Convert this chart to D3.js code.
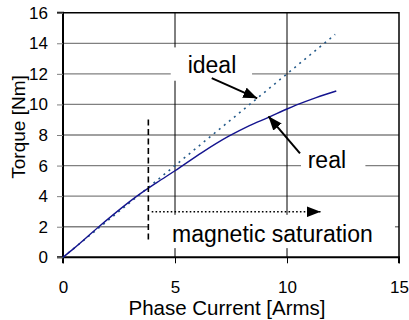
<!DOCTYPE html>
<html>
<head>
<meta charset="utf-8">
<script src="https://cdn.jsdelivr.net/npm/d3@7/dist/d3.min.js"></script>
<style>
  html, body { margin: 0; padding: 0; background: #fff; }
  svg { display: block; }
  text { font-family: "Liberation Sans", Arial, sans-serif; fill: #000; }
</style>
</head>
<body>
<svg id="chart" width="409" height="320"></svg>
<script>
// Measured torque vs. phase current
const realCurrent = [0, 0.5, 1.6, 3.3, 4.2, 5.0, 6.2, 7.4, 8.3, 9.2, 10.0, 10.4, 11.3, 12.2];
const realTorque  = [0, 0.6, 2.0, 4.0, 4.9, 5.66, 6.85, 7.92, 8.6, 9.17, 9.7, 9.95, 10.45, 10.88];

// Ideal (linear, unsaturated) torque
const idealCurrent = [0, 12.15];
const idealTorque  = [0, 14.58];

// Axis ticks
const xTicks = [0, 5, 10, 15];
const yTicks = [0, 2, 4, 6, 8, 10, 12, 14, 16];

const svg = d3.select("#chart");
const margin = { left: 63, right: 10, top: 12.7, bottom: 62.7 };
const W = 409, H = 320;

const x = d3.scaleLinear().domain([0, 15]).range([margin.left, W - margin.right]);
const y = d3.scaleLinear().domain([0, 16]).range([H - margin.bottom, margin.top]);

// Horizontal gridlines (grey)
svg.append("g")
  .selectAll("line")
  .data(yTicks.filter(d => d > 0 && d < 16))
  .join("line")
  .attr("x1", x(0)).attr("x2", x(15))
  .attr("y1", d => y(d)).attr("y2", d => y(d))
  .attr("stroke", "#808080").attr("stroke-width", 1.3);

// Vertical gridlines (black)
svg.append("g")
  .selectAll("line")
  .data(xTicks.filter(d => d > 0 && d < 15))
  .join("line")
  .attr("x1", d => x(d)).attr("x2", d => x(d))
  .attr("y1", y(0)).attr("y2", y(16))
  .attr("stroke", "#000").attr("stroke-width", 1);

// Annotation labels with white backgrounds
const labels = [
  { text: "ideal", cx: 6.65, by: 12.03, box: [4.81, 8.44, 11.55, 13.73] },
  { text: "real", cx: 11.78, by: 5.82, box: [10.625, 13.5, 5.18, 7.0] },
  { text: "magnetic saturation", cx: 9.35, by: 1.03, box: [3.84, 14.82, 0.6, 2.78] }
];

svg.append("g")
  .selectAll("rect")
  .data(labels)
  .join("rect")
  .attr("x", d => x(d.box[0]))
  .attr("y", d => y(d.box[3]))
  .attr("width", d => x(d.box[1]) - x(d.box[0]))
  .attr("height", d => y(d.box[2]) - y(d.box[3]))
  .attr("fill", "#fff");

// Frame: top and right border
svg.append("path")
  .attr("d", `M${x(0)},${y(16)}H${x(15)}V${y(0)}`)
  .attr("fill", "none").attr("stroke", "#000").attr("stroke-width", 1.5);

// Axes
const xAxis = svg.append("g")
  .attr("transform", `translate(0,${y(0)})`)
  .call(d3.axisBottom(x).tickValues(xTicks).tickSize(6).tickPadding(18));
const yAxis = svg.append("g")
  .attr("transform", `translate(${x(0)},0)`)
  .call(d3.axisLeft(y).tickValues(yTicks).tickSize(6).tickPadding(9));

[xAxis, yAxis].forEach(g => {
  g.select(".domain").attr("stroke", "#000").attr("stroke-width", 2);
  g.selectAll(".tick line").attr("stroke", "#000").attr("stroke-width", 1);
  g.selectAll(".tick text")
    .style("font-family", '"Liberation Sans", Arial, sans-serif')
    .style("font-size", "17px").attr("fill", "#000");
});
yAxis.selectAll(".tick line").attr("stroke", "#808080");
xAxis.select(".domain").attr("d", `M${x(0)},6V0H${x(15)}V6`);
yAxis.select(".domain").attr("d", `M-6,${y(0)}H0V${y(16)}H-6`);

// Curves
const line = d3.line().x(d => x(d[0])).y(d => y(d[1]));

svg.append("path")
  .datum(idealCurrent.map((c, i) => [c, idealTorque[i]]))
  .attr("d", line)
  .attr("fill", "none")
  .attr("stroke", "#245a8a")
  .attr("stroke-width", 1.6)
  .attr("stroke-dasharray", "2,4.5");

svg.append("path")
  .datum(realCurrent.map((c, i) => [c, realTorque[i]]))
  .attr("d", line.curve(d3.curveMonotoneX))
  .attr("fill", "none")
  .attr("stroke", "#14148f")
  .attr("stroke-width", 1.4);

// Saturation onset marker (dashed)
svg.append("line")
  .attr("x1", x(3.81)).attr("x2", x(3.81))
  .attr("y1", y(9.02)).attr("y2", y(1.1))
  .attr("stroke", "#000").attr("stroke-width", 1.6)
  .attr("stroke-dasharray", "6,3.5");

// Arrowheads
const defs = svg.append("defs");
defs.append("marker")
  .attr("id", "head")
  .attr("viewBox", "0 0 14 11")
  .attr("refX", 14).attr("refY", 5.5)
  .attr("markerWidth", 14).attr("markerHeight", 11)
  .attr("markerUnits", "userSpaceOnUse")
  .attr("orient", "auto")
  .append("path").attr("d", "M0,0L14,5.5L0,11Z").attr("fill", "#000");

// Saturation range arrow (dotted)
svg.append("line")
  .attr("x1", x(3.96)).attr("x2", x(11.5))
  .attr("y1", y(2.98)).attr("y2", y(2.98))
  .attr("stroke", "#000").attr("stroke-width", 1.5)
  .attr("stroke-dasharray", "1.6,2.2")
  .attr("marker-end", "url(#head)");

// Pointer arrows to the curves
const pointers = [
  { from: [6.64, 11.72], to: [8.67, 10.4] },
  { from: [10.58, 6.8], to: [9.17, 9.22] }
];
svg.append("g")
  .selectAll("line")
  .data(pointers)
  .join("line")
  .attr("x1", d => x(d.from[0])).attr("y1", d => y(d.from[1]))
  .attr("x2", d => x(d.to[0])).attr("y2", d => y(d.to[1]))
  .attr("stroke", "#000").attr("stroke-width", 2)
  .attr("marker-end", "url(#head)");

// Label texts
svg.append("g")
  .selectAll("text")
  .data(labels)
  .join("text")
  .attr("x", d => x(d.cx))
  .attr("y", d => y(d.by))
  .attr("text-anchor", "middle")
  .style("font-size", "23px")
  .text(d => d.text);

// Axis titles
svg.append("text")
  .attr("x", 227).attr("y", 315)
  .attr("text-anchor", "middle")
  .style("font-size", "20.5px")
  .text("Phase Current [Arms]");

svg.append("text")
  .attr("transform", "translate(25,127) rotate(-90)")
  .attr("text-anchor", "middle")
  .style("font-size", "19px")
  .text("Torque [Nm]");
</script>
</body>
</html>
